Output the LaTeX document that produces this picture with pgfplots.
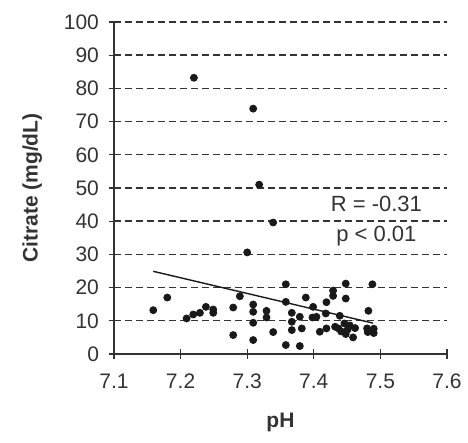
\documentclass[border=0pt]{standalone}
\usepackage{pgfplots}
\pgfplotsset{compat=1.18}
\usepackage{fontspec}
\setmainfont{Liberation Sans}

\begin{document}
\begin{tikzpicture}
\begin{axis}[
  scale only axis,
  width=166.5pt, height=166pt,
  xmin=7.1, xmax=7.6, ymin=0, ymax=100,
  axis lines=left,
  axis line style={black!80, line width=0.6pt, -},
  xtick={7.1,7.2,...,7.6},
  ytick={0,10,...,100},
  tick align=center,
  major tick length=5pt,
  tick style={black!80, line width=0.6pt},
  /pgf/number format/assume math mode=true,
  x tick label style={/pgf/number format/fixed, /pgf/number format/fixed zerofill, /pgf/number format/precision=1, yshift=-4pt},
  tick label style={font=\fontsize{10.5}{12}\selectfont, text=black!80},
  yticklabel style={xshift=-1.5pt},
  ymajorgrids,
  grid style={black!80, line width=0.7pt, dash pattern=on 3.5pt off 2pt},
  xlabel={\textbf{pH}},
  ylabel={\textbf{Citrate (mg/dL)}},
  label style={font=\fontsize{10.5}{12}\selectfont, text=black!80},
  xlabel style={yshift=-5pt},
  ylabel style={yshift=4pt},
  clip=false,
]
% regression line
\addplot[black!90, line width=0.7pt, no marks] coordinates {(7.159,24.9) (7.489,9.3)};
% patients
\addplot[only marks, mark=*, mark size=1.75pt, black!90] coordinates {
  (7.220,83.2) (7.309,73.9) (7.318,51.0) (7.339,39.6) (7.300,30.6)
  (7.159,13.2) (7.180,17.0) (7.209,10.7) (7.219,11.9) (7.229,12.4)
  (7.238,14.2) (7.249,13.4) (7.249,12.4) (7.279,14.0) (7.279,5.7)
  (7.289,17.4) (7.309,14.9) (7.309,12.7) (7.309,9.4) (7.309,4.2)
  (7.329,13.0) (7.329,11.0) (7.339,6.6) (7.358,21.0) (7.358,15.7)
  (7.358,2.7) (7.367,12.4) (7.367,9.7) (7.367,7.2) (7.379,11.2)
  (7.382,7.7) (7.379,2.4) (7.388,17.0) (7.399,14.2) (7.404,11.2)
  (7.409,6.7) (7.418,12.2) (7.419,15.6) (7.419,7.7) (7.429,19.1)
  (7.429,17.5) (7.439,11.5) (7.437,7.7) (7.441,6.8) (7.448,21.2)
  (7.448,16.7) (7.446,9.2) (7.451,7.4) (7.448,6.0) (7.454,8.6)
  (7.459,5.0) (7.462,7.8) (7.482,13.0) (7.488,21.0) (7.480,7.7)
  (7.481,6.6) (7.490,7.6) (7.490,6.3) (7.398,11.0) (7.432,8.2)
};
\node[font=\fontsize{11}{13}\selectfont, text=black!80] at (axis cs:7.494,45.2) {R = -0.31};
\node[font=\fontsize{11}{13}\selectfont, text=black!80] at (axis cs:7.494,35.5) {p < 0.01};
\end{axis}
\pgfresetboundingbox
\path (current axis.south west) ++(-57pt,-44.5pt) rectangle ++(234pt,221.5pt);
\end{tikzpicture}
\end{document}
